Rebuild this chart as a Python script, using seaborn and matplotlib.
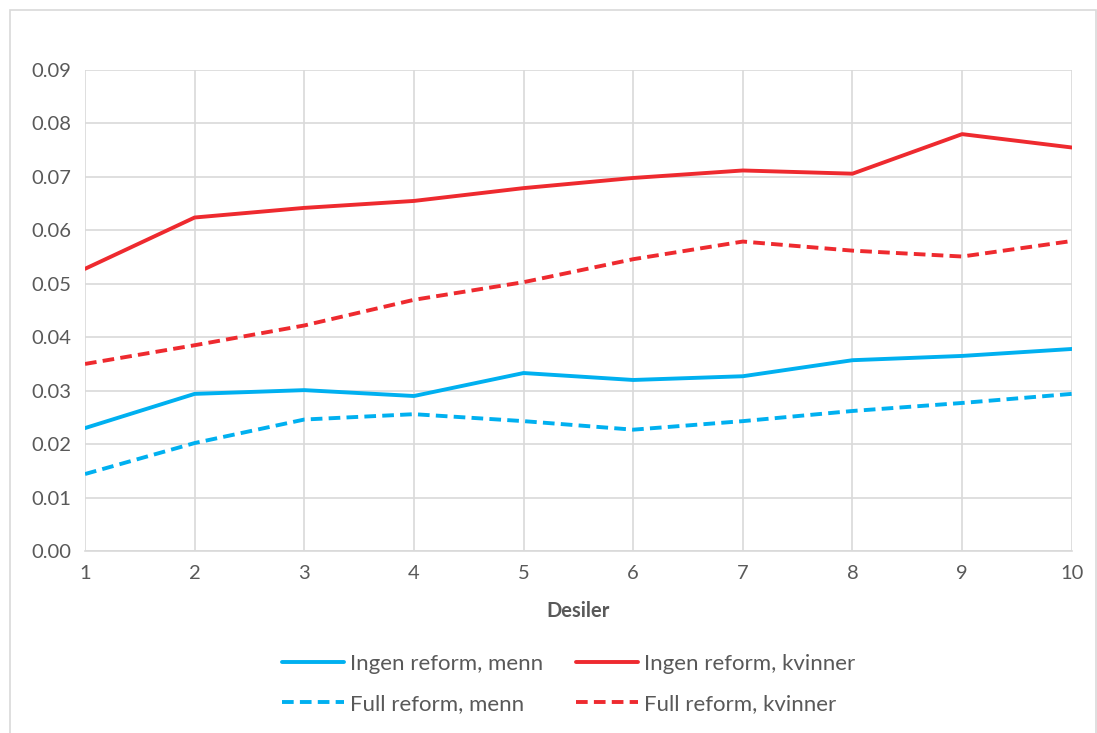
import matplotlib
matplotlib.use('Agg')
import matplotlib.pyplot as plt
import seaborn as sns
import pandas as pd
from matplotlib.patches import Rectangle

desiler = [1, 2, 3, 4, 5, 6, 7, 8, 9, 10]
ingen_menn = [0.0230, 0.0294, 0.0301, 0.0290, 0.0333, 0.0320, 0.0327, 0.0357, 0.0365, 0.0378]
ingen_kvinner = [0.0528, 0.0624, 0.0642, 0.0655, 0.0679, 0.0698, 0.0712, 0.0706, 0.0780, 0.0755]
full_menn = [0.0144, 0.0202, 0.0246, 0.0256, 0.0243, 0.0227, 0.0243, 0.0262, 0.0277, 0.0294]
full_kvinner = [0.0350, 0.0385, 0.0422, 0.0470, 0.0503, 0.0546, 0.0579, 0.0562, 0.0551, 0.0580]

labels = ['Ingen reform, menn', 'Ingen reform, kvinner', 'Full reform, menn', 'Full reform, kvinner']
series = [ingen_menn, ingen_kvinner, full_menn, full_kvinner]
colors = ['#00B0F0', '#EE2A2F', '#00B0F0', '#EE2A2F']
styles = ['-', '-', (0, (3, 1.6)), (0, (3, 1.6))]

frames = []
for lab, vals in zip(labels, series):
    frames.append(pd.DataFrame({'Desil': desiler, 'verdi': vals, 'serie': lab}))
df = pd.concat(frames)

sns.set_style('white')
plt.rcParams['font.family'] = ['Lato', 'DejaVu Sans']

fig = plt.figure(figsize=(10.97, 7.33), dpi=100)
ax = fig.add_axes([0.0775, 0.2483, 0.8995, 0.6562])
fig.patches.append(Rectangle((0.009, -0.01), 0.99, 0.997, transform=fig.transFigure,
                             fill=False, edgecolor='#D9D9D9', linewidth=1.2))

for lab, c, ls in zip(labels, colors, styles):
    sub = df[df['serie'] == lab]
    sns.lineplot(data=sub, x='Desil', y='verdi', ax=ax, color=c, linewidth=2.8,
                 linestyle=ls, label=lab)

ax.set_xlim(1, 10)
ax.set_ylim(0, 0.09)
ax.set_xticks(desiler)
ax.set_yticks([i / 100 for i in range(10)])
ax.set_yticklabels(['{:.2f}'.format(i / 100) for i in range(10)])
ax.grid(True, color='#D9D9D9', linewidth=1.2)
ax.set_axisbelow(True)
for s in ['top', 'right', 'left']:
    ax.spines[s].set_visible(False)
ax.spines['bottom'].set_color('#D9D9D9')
ax.spines['bottom'].set_linewidth(1.2)
ax.tick_params(axis='both', colors='#595959', labelsize=14.5, length=0, pad=10)
ax.set_xlabel('Desiler', fontsize=14.5, fontweight='bold', color='#595959', labelpad=14)
ax.set_ylabel('')

handles, labs = ax.get_legend_handles_labels()
order = [0, 2, 1, 3]
ax.legend([handles[i] for i in order], [labs[i] for i in order], ncol=2,
          loc='upper center', bbox_to_anchor=(0.49, -0.172), frameon=False,
          fontsize=16, labelcolor='#595959', handlelength=2.8, handletextpad=0.25,
          columnspacing=1.5, labelspacing=0.9)

fig.savefig('out.png', dpi=100)
